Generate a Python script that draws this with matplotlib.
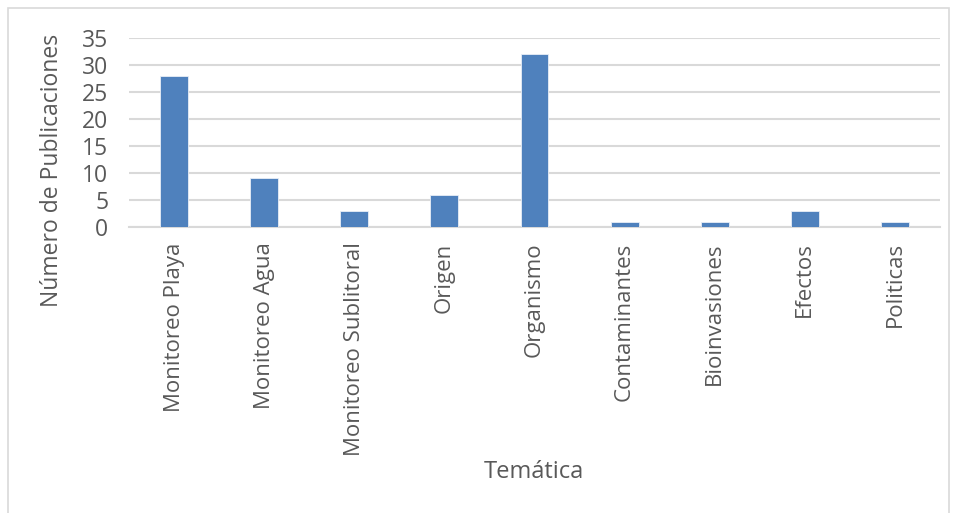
import matplotlib
matplotlib.use("Agg")
import matplotlib.pyplot as plt
from matplotlib.patches import Rectangle

# publicaciones por temática
tematicas = ["Monitoreo Playa", "Monitoreo Agua", "Monitoreo Sublitoral", "Origen",
             "Organismo", "Contaminantes", "Bioinvasiones", "Efectos", "Politicas"]
publicaciones = [28, 9, 3, 6, 32, 1, 1, 3, 1]
yticks = [0, 5, 10, 15, 20, 25, 30, 35]

W, H = 958, 513
TXT = "#595959"
GRID = "#d9d9d9"

plt.rcParams["font.family"] = ["Open Sans", "DejaVu Sans"]

fig = plt.figure(figsize=(W / 100, H / 100), dpi=100)
fig.patches.append(Rectangle((8 / W, -0.01), (W - 9) / W - 8 / W, 1 - 8 / H + 0.01,
                             transform=fig.transFigure, fill=False,
                             edgecolor=GRID, linewidth=1.2))

ax = fig.add_axes([129 / W, 1 - 227 / H, (940 - 129) / W, (227 - 37.7) / H])
x = range(len(tematicas))
ax.bar(x, publicaciones, width=0.31, color="#4f81bd", edgecolor="#e8eef7",
       linewidth=0.6, zorder=3)

ax.set_xlim(-0.5, len(tematicas) - 0.5)
ax.set_ylim(0, 35)
ax.set_yticks(yticks)
ax.set_xticks(list(x))
ax.set_xticklabels(tematicas, rotation=90, fontsize=16, color=TXT)
ax.tick_params(axis="y", labelsize=16.5, colors=TXT, length=0, pad=15)
ax.tick_params(axis="x", length=0, pad=11)
ax.grid(axis="y", color=GRID, linewidth=1.5, zorder=0)
for s in ["top", "right", "left"]:
    ax.spines[s].set_visible(False)
ax.spines["bottom"].set_color(GRID)
ax.spines["bottom"].set_linewidth(1.5)

fig.text(52 / W, 1 - 170 / H, "Número de Publicaciones", rotation=90,
         ha="center", va="center", fontsize=16.5, color=TXT)
fig.text(534 / W, 1 - 472 / H, "Temática", ha="center", va="center",
         fontsize=17, color=TXT)

fig.savefig("out.png", dpi=100, facecolor="white")
